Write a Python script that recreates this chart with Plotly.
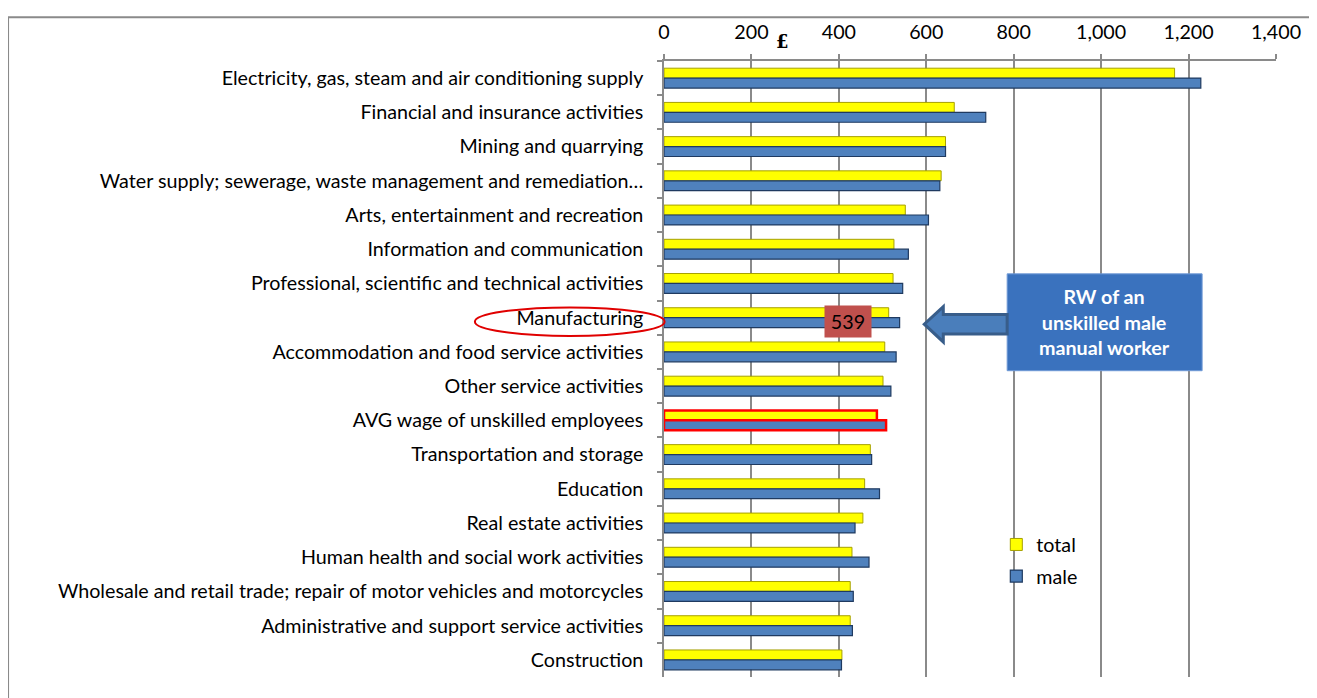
import plotly.graph_objects as go

categories = [
    "Electricity, gas, steam and air conditioning supply",
    "Financial and insurance activities",
    "Mining and quarrying",
    "Water supply; sewerage, waste management and remediation…",
    "Arts, entertainment and recreation",
    "Information and communication",
    "Professional, scientific and technical activities",
    "Manufacturing",
    "Accommodation and food service activities",
    "Other service activities",
    "AVG wage of unskilled employees",
    "Transportation and storage",
    "Education",
    "Real estate activities",
    "Human health and social work activities",
    "Wholesale and retail trade; repair of motor vehicles and motorcycles",
    "Administrative and support service activities",
    "Construction",
]
total = [1168, 664, 644, 634, 552, 526, 524, 514, 505, 501, 487, 472, 459, 455, 430, 426, 426, 407]
male = [1228, 736, 644, 631, 605, 559, 546, 539, 531, 519, 508, 475, 493, 437, 469, 433, 431, 406]
x_ticks = [0, 200, 400, 600, 800, 1000, 1200, 1400]

FONT = "Lato"
FS = 19.7
GRID = "#8a8a8a"
highlight = "AVG wage of unskilled employees"

tot_line = ["#ff0000" if c == highlight else "#a6a000" for c in categories]
tot_lw = [2.5 if c == highlight else 1 for c in categories]
male_line = ["#ff0000" if c == highlight else "#1f3a60" for c in categories]
male_lw = [2.5 if c == highlight else 1.2 for c in categories]

fig = go.Figure()
fig.add_trace(go.Bar(
    y=categories, x=total, orientation="h", name="total", legendgroup="a",
    marker=dict(color="#ffff00", line=dict(color=tot_line, width=tot_lw)),
))
fig.add_trace(go.Bar(
    y=categories, x=male, orientation="h", name="male", legendgroup="b",
    marker=dict(color="#4f81bd", line=dict(color=male_line, width=male_lw)),
))

fig.update_layout(
    width=1317, height=698,
    margin=dict(l=655.5, r=49, t=44, b=29),
    paper_bgcolor="white", plot_bgcolor="white",
    barmode="group", bargap=0.42, bargroupgap=0.0,
    font=dict(family=FONT, size=FS, color="#000000"),
    showlegend=True,
    legend=dict(x=0.543, y=0.2465, xanchor="left", yanchor="top",
                bgcolor="rgba(0,0,0,0)", font=dict(size=FS),
                traceorder="grouped", tracegroupgap=3, itemwidth=30),
    xaxis=dict(side="top", range=[0, 1400], tickvals=x_ticks,
               ticktext=[f"{v:,}" for v in x_ticks],
               showgrid=True, gridcolor=GRID, gridwidth=1.5,
               showline=True, linecolor=GRID, linewidth=1.5,
               ticks="outside", ticklen=5, tickcolor=GRID, tickwidth=1.5,
               ticklabelstandoff=7,
               zeroline=False, tickfont=dict(size=FS)),
    yaxis=dict(type="category", autorange="reversed",
               showline=True, linecolor=GRID, linewidth=1.5,
               ticks="outside", ticklen=5, tickcolor=GRID, tickwidth=1.5,
               tickson="boundaries", ticklabelstandoff=15,
               showgrid=False, tickfont=dict(size=FS)),
)

shapes = []
# outer chart border
shapes.append(dict(type="rect", xref="paper", yref="paper",
                   x0=-1.0718, x1=1.0604, y0=-0.2, y1=1.071,
                   line=dict(color="#8a8a8a", width=2), fillcolor="rgba(0,0,0,0)", layer="below"))
# red ellipse around "Manufacturing"
shapes.append(dict(type="circle", xref="paper", yref="paper",
                   x0=-0.309, x1=0.001, y0=0.5536, y1=0.600,
                   line=dict(color="#e00000", width=2)))
# callout box
shapes.append(dict(type="rect", xref="x", yref="y",
                   x0=785, x1=1231, y0=5.72, y1=8.55,
                   fillcolor="#3a72be", line=dict(color="#6f9ad6", width=1)))
# block arrow
shapes.append(dict(type="path", xref="x", yref="y",
                   path="M 785,6.906 L 638.9,6.906 L 638.9,6.68 L 595.4,7.19 L 638.9,7.71 L 638.9,7.48 L 785,7.48 Z",
                   fillcolor="#4a7ebb", line=dict(color="#385d8a", width=3)))
fig.update_layout(shapes=shapes)

annotations = []
annotations.append(dict(xref="x", yref="y", x=1008, y=7.14,
                        text="<b>RW of an<br>unskilled male<br>manual worker</b>",
                        showarrow=False, font=dict(color="white", size=FS, family=FONT),
                        align="center"))
annotations.append(dict(xref="x", yref="y", x=422, y=7.12,
                        text="539", showarrow=False, bgcolor="#c0504d",
                        width=44, height=29, font=dict(size=FS, color="black", family=FONT)))
annotations.append(dict(xref="paper", yref="paper", x=(782 - 663.5) / 612.5, y=1 + (53 - 33) / 625,
                        xanchor="center", yanchor="middle",
                        text="<b>£</b>", showarrow=False, font=dict(size=18, family="DejaVu Serif")))
fig.update_layout(annotations=annotations)

fig.write_html("out.html")
